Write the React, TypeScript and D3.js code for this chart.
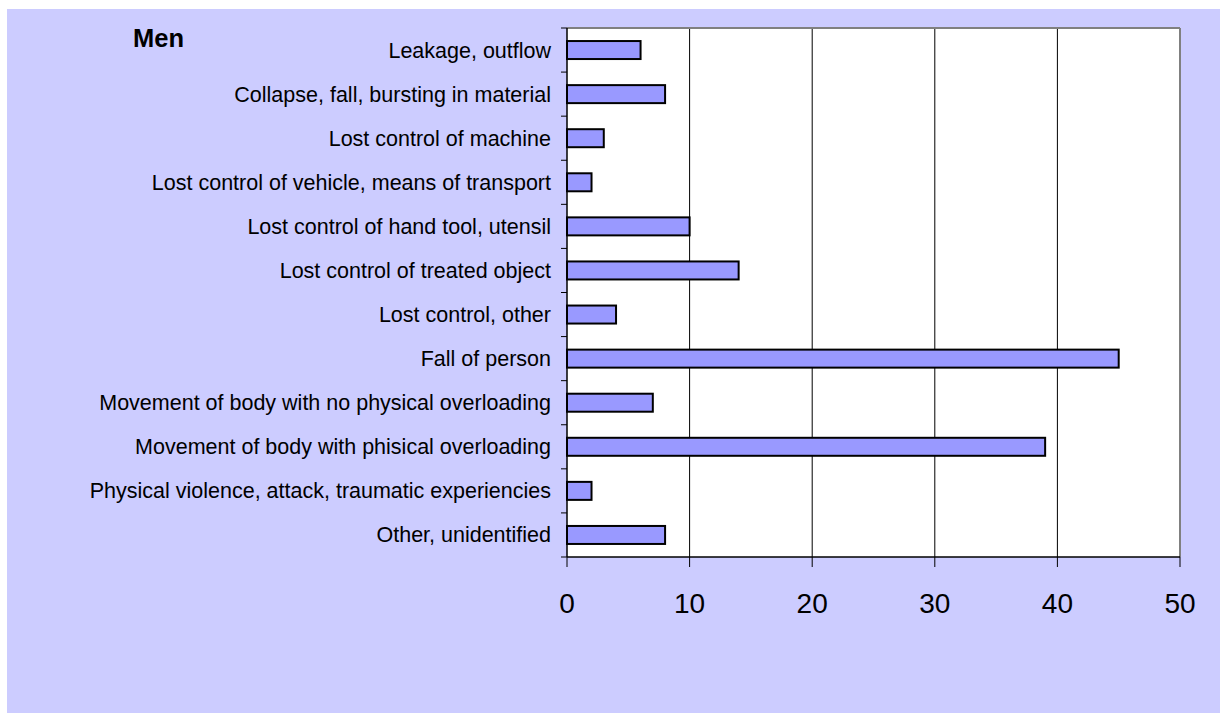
import React from "react";
import * as d3 from "d3";

const categories = [
  "Leakage, outflow",
  "Collapse, fall, bursting in material",
  "Lost control of machine",
  "Lost control of vehicle, means of transport",
  "Lost control of hand tool, utensil",
  "Lost control of treated object",
  "Lost control, other",
  "Fall of person",
  "Movement of body with no physical overloading",
  "Movement of body with phisical overloading",
  "Physical violence, attack, traumatic experiencies",
  "Other, unidentified",
];
const values = [6, 8, 3, 2, 10, 14, 4, 45, 7, 39, 2, 8];
const xTicks = [0, 10, 20, 30, 40, 50];
const title = "Men";

export default function App() {
  const W = 1220, H = 713;
  const left = 567, right = 1180, top = 28, bottom = 557;
  const x = d3.scaleLinear().domain([0, 50]).range([left, right]);
  const y = d3.scaleBand<string>().domain(categories).range([top, bottom]).paddingInner(0).paddingOuter(0);
  const bw = y.bandwidth();
  const barH = 18;
  const font = "'Liberation Sans', Arial, sans-serif";
  const boundaries = d3.range(categories.length + 1).map((i) => top + i * bw);
  return (
    <svg width={W} height={H} style={{ position: "fixed", left: 0, top: 0 }} fontFamily={font}>
      <rect x={7} y={9} width={W - 7} height={H - 9} fill="#CCCCFF" />
      <rect x={left} y={top} width={right - left} height={bottom - top} fill="#FFFFFF" />
      {xTicks.slice(1, -1).map((t) => (
        <line key={"g" + t} x1={x(t)} x2={x(t)} y1={top} y2={bottom} stroke="#000" strokeWidth={1} />
      ))}
      <line x1={left} x2={right} y1={top} y2={top} stroke="#808080" strokeWidth={2} />
      <line x1={right} x2={right} y1={top} y2={bottom} stroke="#808080" strokeWidth={2} />
      {categories.map((c, i) => {
        const cy = (y(c) as number) + bw / 2;
        return (
          <g key={c}>
            <rect
              x={x(0)}
              y={cy - barH / 2}
              width={x(values[i]) - x(0)}
              height={barH}
              fill="#9999FF"
              stroke="#000"
              strokeWidth={2}
            />
            <text x={551} y={cy} dy="0.35em" textAnchor="end" fontSize={21.5} fill="#000">
              {c}
            </text>
          </g>
        );
      })}
      <line x1={left} x2={left} y1={top} y2={bottom} stroke="#000" strokeWidth={1.5} />
      {boundaries.map((b, i) => (
        <line key={"yt" + i} x1={left - 6} x2={left} y1={b} y2={b} stroke="#000" strokeWidth={1} />
      ))}
      <line x1={left} x2={right} y1={bottom} y2={bottom} stroke="#000" strokeWidth={1.5} />
      {xTicks.map((t) => (
        <g key={"xt" + t}>
          <line x1={x(t)} x2={x(t)} y1={bottom} y2={bottom + 10} stroke="#000" strokeWidth={1} />
          <text x={x(t)} y={613} textAnchor="middle" fontSize={28} fill="#000">
            {t}
          </text>
        </g>
      ))}
      <text x={133} y={47} fontSize={25.5} fontWeight="bold" fill="#000">
        {title}
      </text>
    </svg>
  );
}
